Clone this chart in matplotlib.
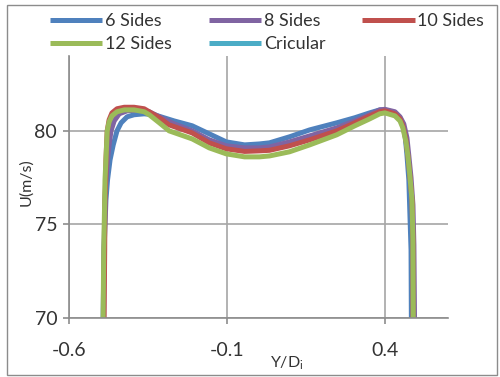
import matplotlib
matplotlib.use("Agg")
import matplotlib.pyplot as plt
from matplotlib.patches import Rectangle

plt.rcParams['font.family'] = ['Lato', 'DejaVu Sans']

# Velocity profiles across the duct, U (m/s) vs Y/Di
x_6 = [-0.492, -0.489, -0.483, -0.478, -0.470, -0.460, -0.448, -0.435, -0.416, -0.394,
       -0.362, -0.330, -0.267, -0.210, -0.156, -0.102, -0.044, 0.003, 0.035, 0.098,
       0.162, 0.248, 0.305, 0.352, 0.384, 0.400, 0.432, 0.448, 0.457, 0.464,
       0.470, 0.476, 0.479, 0.483, 0.484]
u_6 = [70.00, 73.64, 76.31, 77.38, 78.45, 79.25, 80.00, 80.43, 80.75, 80.86,
       80.91, 80.86, 80.53, 80.27, 79.84, 79.41, 79.25, 79.30, 79.36, 79.68,
       80.05, 80.43, 80.70, 80.96, 81.12, 81.12, 80.96, 80.70, 80.37, 79.79,
       78.72, 77.38, 75.78, 73.64, 70.00]

x_8 = [-0.490, -0.489, -0.486, -0.483, -0.478, -0.473, -0.467, -0.457, -0.441, -0.416,
       -0.378, -0.346, -0.314, -0.267, -0.210, -0.156, -0.102, -0.044, 0.003, 0.035,
       0.098, 0.162, 0.248, 0.305, 0.352, 0.384, 0.400, 0.432, 0.448, 0.460,
       0.470, 0.476, 0.483, 0.489, 0.492, 0.494]
u_8 = [70.00, 73.64, 76.31, 77.38, 78.45, 79.25, 80.00, 80.53, 80.91, 81.07,
       81.12, 81.02, 80.75, 80.37, 80.00, 79.52, 79.20, 79.09, 79.09, 79.14,
       79.41, 79.73, 80.16, 80.53, 80.86, 81.12, 81.15, 81.02, 80.75, 80.37,
       79.63, 78.66, 77.49, 76.04, 73.90, 70.00]

x_10 = [-0.489, -0.487, -0.486, -0.484, -0.483, -0.481, -0.479, -0.473, -0.464, -0.448,
        -0.425, -0.394, -0.362, -0.314, -0.283, -0.210, -0.156, -0.102, -0.044, 0.003,
        0.035, 0.098, 0.162, 0.248, 0.305, 0.352, 0.384, 0.400, 0.432, 0.448,
        0.457, 0.467, 0.473, 0.479, 0.486, 0.489, 0.489]
u_10 = [70.00, 73.64, 76.31, 77.38, 78.45, 79.25, 80.00, 80.59, 80.96, 81.18,
        81.26, 81.26, 81.18, 80.70, 80.32, 79.89, 79.36, 79.04, 78.90, 78.93,
        78.96, 79.20, 79.52, 80.00, 80.43, 80.80, 81.02, 81.07, 80.91, 80.64,
        80.27, 79.52, 78.66, 77.65, 76.31, 74.17, 70.00]

x_12 = [-0.492, -0.490, -0.487, -0.486, -0.483, -0.481, -0.479, -0.473, -0.464, -0.448,
        -0.425, -0.394, -0.362, -0.346, -0.314, -0.283, -0.210, -0.156, -0.102, -0.044,
        0.003, 0.035, 0.098, 0.162, 0.248, 0.305, 0.352, 0.384, 0.400, 0.432,
        0.448, 0.457, 0.467, 0.473, 0.479, 0.486, 0.489, 0.490]
u_12 = [70.00, 73.64, 76.31, 77.38, 78.45, 79.25, 80.00, 80.48, 80.80, 81.02,
        81.12, 81.12, 81.02, 80.86, 80.43, 80.00, 79.57, 79.09, 78.77, 78.61,
        78.61, 78.66, 78.88, 79.25, 79.79, 80.27, 80.64, 80.91, 80.96, 80.80,
        80.53, 80.16, 79.41, 78.66, 77.65, 76.31, 74.17, 70.00]

# circular case only shows up in the legend
x_circ = []
u_circ = []

labels = ['6 Sides', '8 Sides', '10 Sides', '12 Sides', 'Cricular']
colors = ['#4F81BD', '#8064A2', '#C0504D', '#9BBB59', '#4BACC6']
x_ticks = [-0.6, -0.1, 0.4]
y_ticks = [70, 75, 80]

fig = plt.figure(figsize=(5.0, 3.77), dpi=100)
ax = fig.add_axes([0.138, 0.1565, 0.758, 0.695])

series = [(x_6, u_6), (x_8, u_8), (x_10, u_10), (x_12, u_12), (x_circ, u_circ)]
handles = []
for (xs, us), lab, col in zip(series, labels, colors):
    h, = ax.plot(xs, us, color=col, lw=3.6, label=lab,
                 solid_joinstyle='round', solid_capstyle='butt')
    handles.append(h)

ax.set_xlim(-0.6, 0.6)
ax.set_ylim(70, 84.0)
ax.set_xticks(x_ticks)
ax.set_xticklabels(['-0.6', '-0.1', '0.4'])
ax.set_yticks(y_ticks)

grid_col = '#A6A6A6'
ax.grid(True, color=grid_col, lw=1.2)
ax.set_axisbelow(True)
for side in ['top', 'right']:
    ax.spines[side].set_visible(False)
for side in ['left', 'bottom']:
    ax.spines[side].set_color('#8C8C8C')
    ax.spines[side].set_linewidth(1.2)
ax.tick_params(axis='both', direction='out', length=4.5, width=1.2,
               color='#8C8C8C', labelsize=14, labelcolor='#333333', pad=4)
ax.tick_params(axis='x', pad=13)

ax.set_ylabel('U(m/s)', fontsize=11.5, color='#333333', labelpad=2)
ax.yaxis.set_label_coords(-0.095, 0.52)
ax.set_xlabel('Y/D$_\\mathregular{i}$', fontsize=11.5, color='#333333', labelpad=2)
ax.xaxis.set_label_coords(0.575, -0.14)

# legend laid out row by row across three columns
order = [0, 3, 1, 4, 2]
leg = fig.legend([handles[i] for i in order], [labels[i] for i in order],
                 ncol=3, loc='upper left', bbox_to_anchor=(0.085, 0.985),
                 frameon=False, fontsize=13, handlelength=2.9,
                 handletextpad=0.15, columnspacing=2.05, labelspacing=0.4,
                 borderaxespad=0.0)
for t in leg.get_texts():
    t.set_color('#333333')
for lh in leg.get_lines():
    lh.set_linewidth(3.6)

fig.patches.append(Rectangle((0.014, 0.006), 0.98, 0.981, transform=fig.transFigure,
                             fill=False, edgecolor='#8C8C8C', lw=1.0))

fig.savefig('out.png', dpi=100)
